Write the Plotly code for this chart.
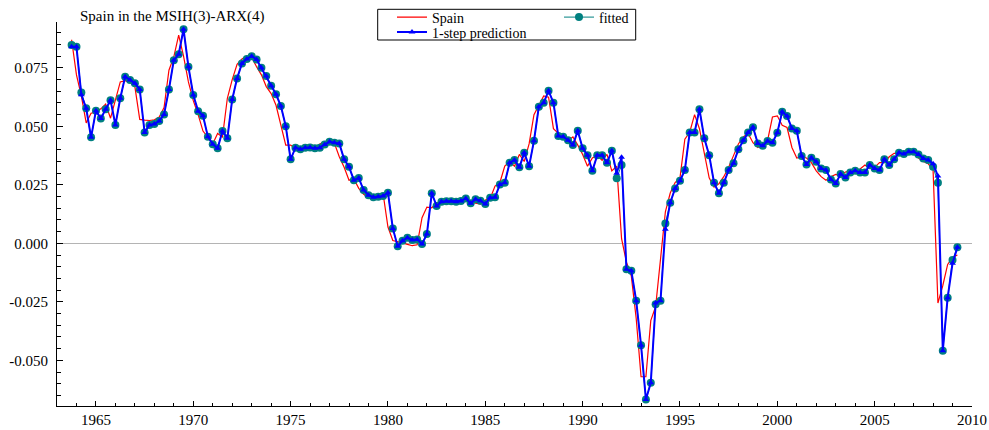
import plotly.graph_objects as go

# quarterly observations, first one 1963 Q4
start_year = 1963
start_quarter = 4

spain = [
    0.087, 0.072, 0.063, 0.0515, 0.0556, 0.0561, 0.0575, 0.0595, 0.0535, 0.0615,
    0.069, 0.0695, 0.0688, 0.067, 0.053, 0.0527, 0.0525, 0.0528, 0.054, 0.058,
    0.074, 0.0797, 0.089, 0.080, 0.069, 0.061, 0.055, 0.048, 0.045, 0.0425,
    0.047, 0.0455, 0.062, 0.070, 0.0765, 0.0788, 0.080, 0.0795, 0.0755, 0.072,
    0.067, 0.064, 0.059, 0.050, 0.042, 0.042, 0.0405, 0.041, 0.041, 0.0405,
    0.041, 0.0425, 0.0435, 0.043, 0.0428, 0.037, 0.0325, 0.027, 0.0275, 0.0235,
    0.021, 0.0198, 0.0199, 0.0201, 0.0212, 0.007, 0.0012, 0.0008, 0.0002, -0.0004,
    -0.001, -0.0006, 0.011, 0.0155, 0.0152, 0.0172, 0.018, 0.0181, 0.0183, 0.0185,
    0.0175, 0.0185, 0.018, 0.0172, 0.0168, 0.0185, 0.0192, 0.0245, 0.026, 0.033,
    0.035, 0.033, 0.038, 0.035, 0.0425, 0.055, 0.059, 0.063, 0.0625, 0.049,
    0.047, 0.045, 0.044, 0.0455, 0.042, 0.038, 0.033, 0.0365, 0.0375, 0.0355,
    0.038, 0.031, 0.033, 0.002, -0.008, -0.014, -0.032, -0.057, -0.057, -0.033,
    -0.027, -0.006, 0.0135, 0.0215, 0.026, 0.028, 0.0445, 0.0475, 0.055, 0.049,
    0.039, 0.028, 0.024, 0.0255, 0.0285, 0.0325, 0.0375, 0.0425, 0.0455, 0.047,
    0.043, 0.041, 0.0425, 0.044, 0.054, 0.0545, 0.0505, 0.0495, 0.041, 0.0365,
    0.037, 0.0365, 0.0345, 0.031, 0.0285, 0.027, 0.0285, 0.0295, 0.029, 0.0305,
    0.031, 0.031, 0.0318, 0.0335, 0.032, 0.0325, 0.0345, 0.0345, 0.037, 0.0385,
    0.0385, 0.039, 0.0388, 0.0385, 0.0365, 0.035, 0.034, 0.0315, -0.0255, -0.018,
    -0.009, -0.006, -0.005,
]

prediction = [
    0.084, 0.084, 0.0635, 0.0577, 0.0453, 0.0567, 0.0534, 0.0573, 0.0612, 0.0506,
    0.062, 0.0712, 0.0698, 0.0684, 0.0658, 0.0474, 0.0506, 0.051, 0.0523, 0.0551,
    0.0658, 0.0783, 0.0808, 0.0915, 0.0755, 0.0634, 0.0565, 0.0545, 0.0456, 0.0424,
    0.0406, 0.048, 0.0449, 0.0615, 0.0705, 0.0769, 0.0788, 0.080, 0.0786, 0.075,
    0.0715, 0.0674, 0.0637, 0.0587, 0.0501, 0.0359, 0.0409, 0.0402, 0.0409, 0.041,
    0.0406, 0.0409, 0.0423, 0.0434, 0.043, 0.0427, 0.0359, 0.0327, 0.027, 0.0279,
    0.0228, 0.0206, 0.0197, 0.0199, 0.0202, 0.0216, 0.0064, -0.0012, 0.0011, 0.0024,
    0.0014, 0.0017, -0.0003, 0.004, 0.0214, 0.016, 0.0178, 0.018, 0.018, 0.0178,
    0.0181, 0.0192, 0.0171, 0.0189, 0.0182, 0.0168, 0.0195, 0.0197, 0.0252, 0.0259,
    0.0344, 0.0356, 0.0325, 0.0387, 0.033, 0.0438, 0.0584, 0.0601, 0.0652, 0.0601,
    0.0459, 0.0456, 0.0441, 0.042, 0.0481, 0.0406, 0.0377, 0.031, 0.0377, 0.0377,
    0.0344, 0.0396, 0.030, 0.0368, -0.0111, -0.0117, -0.0245, -0.0435, -0.0667, -0.0596,
    -0.0255, -0.0245, 0.006, 0.0174, 0.0235, 0.0268, 0.0313, 0.0474, 0.0474, 0.0573,
    0.0449, 0.0377, 0.0259, 0.0214, 0.0259, 0.0313, 0.0342, 0.0402, 0.0441, 0.0474,
    0.0496, 0.0427, 0.0417, 0.0437, 0.043, 0.0473, 0.0562, 0.0544, 0.0491, 0.0481,
    0.0373, 0.0337, 0.0366, 0.0349, 0.032, 0.0313, 0.0273, 0.0256, 0.0296, 0.0282,
    0.0303, 0.031, 0.0303, 0.0303, 0.0335, 0.032, 0.0313, 0.0359, 0.0335, 0.0359,
    0.0387, 0.0382, 0.0392, 0.0392, 0.038, 0.0363, 0.0356, 0.034, 0.0288, -0.0459,
    -0.0232, -0.0085, -0.0017,
]

fitted = [
    0.0848, 0.084, 0.0645, 0.0577, 0.0453, 0.0567, 0.0534, 0.0573, 0.0612, 0.0506,
    0.062, 0.0712, 0.0698, 0.0684, 0.0658, 0.0474, 0.0506, 0.051, 0.0523, 0.0551,
    0.0658, 0.0783, 0.0808, 0.0915, 0.0755, 0.0634, 0.0565, 0.0545, 0.0456, 0.0424,
    0.0406, 0.048, 0.0449, 0.0615, 0.0705, 0.0769, 0.0788, 0.080, 0.0786, 0.075,
    0.0715, 0.0674, 0.0637, 0.0587, 0.0501, 0.0359, 0.0409, 0.0402, 0.0409, 0.041,
    0.0406, 0.0409, 0.0423, 0.0434, 0.043, 0.0427, 0.0359, 0.0327, 0.027, 0.0279,
    0.0228, 0.0206, 0.0197, 0.0199, 0.0202, 0.0216, 0.0064, -0.0012, 0.0011, 0.0024,
    0.0014, 0.0017, -0.0003, 0.004, 0.0214, 0.016, 0.0178, 0.018, 0.018, 0.0178,
    0.0181, 0.0192, 0.0171, 0.0189, 0.0182, 0.0168, 0.0195, 0.0197, 0.0252, 0.0259,
    0.0344, 0.0356, 0.0325, 0.0387, 0.033, 0.0438, 0.0584, 0.0601, 0.0652, 0.0601,
    0.0459, 0.0456, 0.0441, 0.042, 0.0481, 0.0406, 0.0377, 0.031, 0.0377, 0.0377,
    0.0344, 0.0396, 0.0278, 0.0335, -0.0111, -0.0117, -0.0245, -0.0435, -0.0667, -0.0596,
    -0.026, -0.0245, 0.0085, 0.0174, 0.0235, 0.0268, 0.0313, 0.0474, 0.0474, 0.0573,
    0.0449, 0.0377, 0.0259, 0.0214, 0.0259, 0.0313, 0.0342, 0.0402, 0.0441, 0.0474,
    0.0496, 0.0427, 0.0417, 0.0437, 0.043, 0.0473, 0.0562, 0.0544, 0.0491, 0.0481,
    0.0373, 0.0337, 0.0366, 0.0349, 0.032, 0.0313, 0.0273, 0.0256, 0.0296, 0.0282,
    0.0303, 0.031, 0.0303, 0.0303, 0.0335, 0.032, 0.0313, 0.0359, 0.0335, 0.0359,
    0.0387, 0.0382, 0.0392, 0.0392, 0.038, 0.0363, 0.0356, 0.0327, 0.0259, -0.0459,
    -0.0232, -0.0071, -0.0017,
]

y_tickvals = [-0.050, -0.025, 0.000, 0.025, 0.050, 0.075]
y_ticktext = ["-0.050", "-0.025", "0.000", "0.025", "0.050", "0.075"]
x_tickvals = [1965, 1970, 1975, 1980, 1985, 1990, 1995, 2000, 2005, 2010]

n = len(spain)
dates = []
for i in range(n):
    q = start_quarter - 1 + i
    dates.append(start_year + q // 4 + (q % 4) / 4.0)

FONT = "Times New Roman, Liberation Serif, DejaVu Serif, Noto Serif, serif"

fig = go.Figure()
fig.add_trace(go.Scatter(
    x=dates, y=spain, name="Spain", mode="lines",
    line=dict(color="#ff0000", width=1.2), legend="legend"))
fig.add_trace(go.Scatter(
    x=dates[:len(fitted)], y=fitted, name="fitted", mode="lines+markers",
    line=dict(color="#008080", width=1),
    marker=dict(symbol="circle", size=8, color="#008080"), legend="legend2"))
fig.add_trace(go.Scatter(
    x=dates[:len(prediction)], y=prediction, name="1-step prediction", mode="lines+markers",
    line=dict(color="#0000ff", width=2),
    marker=dict(symbol="triangle-up", size=6, color="#0000ff"), legend="legend3"))

W, H = 989, 430
PL, PR, PT, PB = 57, 972, 22, 406          # plot area edges in window pixels
L, R, T, B = PL, W - PR, PT, H - PB
pw, ph = PR - PL, PB - PT

def px_x(p):
    return (p - PL) / pw

def px_y(p):
    return (PB - p) / ph

leg_common = dict(font=dict(family=FONT, size=14, color="black"),
                  bgcolor="rgba(0,0,0,0)", borderwidth=0,
                  xanchor="left", yanchor="middle", orientation="v")

fig.update_layout(
    width=W, height=H,
    margin=dict(l=L, r=R, t=T, b=B, autoexpand=False),
    paper_bgcolor="white", plot_bgcolor="white",
    font=dict(family=FONT, size=15, color="black"),
    showlegend=True,
    hovermode=False,
    legend=dict(x=px_x(392), y=px_y(17.5), **leg_common),
    legend2=dict(x=px_x(559), y=px_y(17.5), **leg_common),
    legend3=dict(x=px_x(392), y=px_y(32.5), **leg_common),
    xaxis=dict(range=[1963, 2010], tickvals=x_tickvals, ticks="inside", ticklen=5,
               tickcolor="black", showline=True, linecolor="black", linewidth=1,
               showgrid=False, zeroline=False, mirror=False, ticklabelstandoff=0,
               minor=dict(dtick=1, ticks="inside", ticklen=3, tickcolor="black", showgrid=False),
               tickfont=dict(family=FONT, size=15, color="black")),
    yaxis=dict(range=[-0.0695, 0.0946], tickvals=y_tickvals, ticktext=y_ticktext,
               ticks="inside", ticklen=6, tickcolor="black", ticklabelstandoff=5,
               showline=True, linecolor="black", linewidth=1, showgrid=False,
               zeroline=True, zerolinecolor="#b4b4b4", zerolinewidth=1,
               minor=dict(dtick=0.005, tick0=0, ticks="inside", ticklen=4, tickcolor="black", showgrid=False),
               tickfont=dict(family=FONT, size=15, color="black")),
    shapes=[dict(type="rect", xref="paper", yref="paper",
                 x0=px_x(377.7), x1=px_x(635.7), y0=px_y(40), y1=px_y(9.3),
                 line=dict(color="black", width=1), fillcolor="rgba(0,0,0,0)")],
    annotations=[dict(text="Spain in the MSIH(3)-ARX(4)", xref="paper", yref="paper",
                      x=px_x(78), y=px_y(16.5), xanchor="left", yanchor="middle",
                      showarrow=False, font=dict(family=FONT, size=15, color="black"))],
)

fig.write_html("out.html", config={"displayModeBar": False},
               post_script="document.body.style.margin='0px';")
